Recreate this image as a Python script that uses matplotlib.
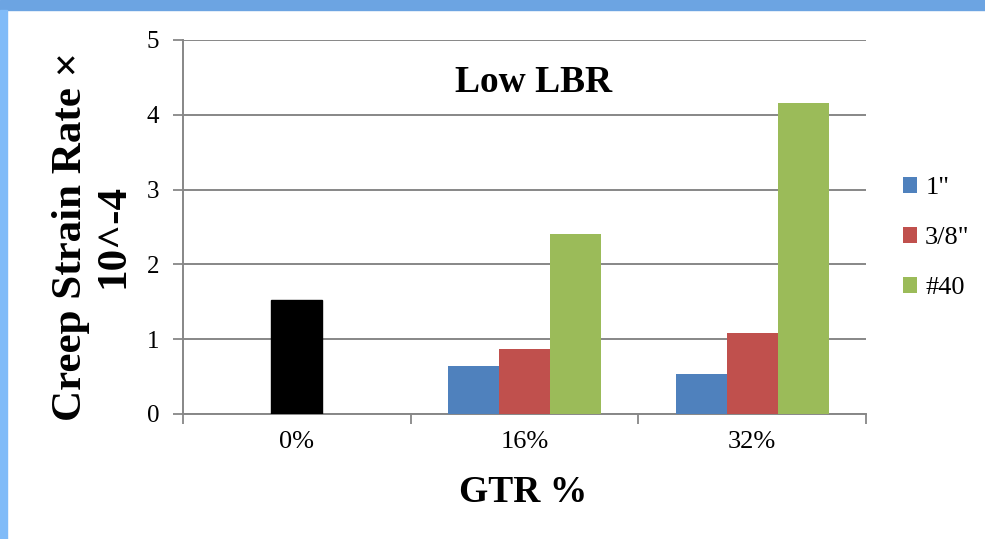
import numpy as np
import matplotlib
matplotlib.use("Agg")
import matplotlib.pyplot as plt
from matplotlib.patches import Patch, Rectangle

plt.rcParams['font.family'] = ['Liberation Serif', 'DejaVu Serif']

categories = ["0%", "16%", "32%"]
series_names = ['1"', '3/8"', '#40']
one_inch = [0.0, 0.64, 0.54]
three_eighths = [1.52, 0.87, 1.08]
no40 = [0.0, 2.41, 4.16]
colors = ["#4F81BD", "#C0504D", "#9BBB59"]
grid_col = "#878787"

W, H = 985, 539
fig = plt.figure(figsize=(W / 100, H / 100), dpi=100)
fig.patch.set_facecolor("white")

# blue frame strips at top and left
fig.patches.append(Rectangle((0, 1 - 10 / H), 1, 10 / H, transform=fig.transFigure,
                             color="#6CA4E2", zorder=0))
fig.patches.append(Rectangle((0, 0), 7 / W, 1 - 10 / H, transform=fig.transFigure,
                             color="#80BBF8", zorder=0))

ax = fig.add_axes([183 / W, 1 - 414 / H, (866 - 183) / W, (414 - 40) / H])

x = np.arange(len(categories))
bw = 0.224
ax.bar(x - bw, one_inch, bw, color=colors[0], zorder=3)
bars = ax.bar(x, three_eighths, bw, color=colors[1], zorder=3)
bars[0].set_color("black")  # control mix shown in black
ax.bar(x + bw, no40, bw, color=colors[2], zorder=3)

ax.set_xlim(-0.5, 2.5)
ax.set_ylim(0, 5)
ax.set_yticks(range(6))
ax.set_xticks(x)
ax.set_xticklabels(categories, fontsize=19)
ax.set_xticks([-0.5, 0.5, 1.5, 2.5], minor=True)
ax.tick_params(axis="x", which="major", length=0, pad=12)
ax.tick_params(axis="x", which="minor", length=7, width=1.3, color=grid_col, direction="out")
ax.tick_params(axis="y", length=7, width=1.3, color=grid_col, labelsize=18, pad=10)
ax.yaxis.grid(True, color=grid_col, linewidth=1.4, zorder=1)
for s in ("top", "right"):
    ax.spines[s].set_visible(False)
for s in ("left", "bottom"):
    ax.spines[s].set_color(grid_col)
    ax.spines[s].set_linewidth(1.4)

fig.text(534 / W, 1 - 83 / H, "Low LBR", ha="center", va="center",
         fontsize=27, fontweight="bold")
fig.text(523 / W, 1 - 493 / H, "GTR %", ha="center", va="center",
         fontsize=27, fontweight="bold")
fig.text(92 / W, 1 - 236 / H, "Creep Strain Rate \u00d7\n10^-4", ha="center", va="center",
         rotation=90, fontsize=31, fontweight="bold", multialignment="center",
         linespacing=1.15)

handles = [Patch(facecolor=c) for c in colors]
fig.legend(handles, series_names, loc="upper left",
           bbox_to_anchor=(879 / W, 1 - 153 / H), frameon=False, fontsize=19,
           handlelength=0.55, handleheight=0.55, handletextpad=0.3, labelspacing=1.05)

fig.savefig("out.png", dpi=100)
